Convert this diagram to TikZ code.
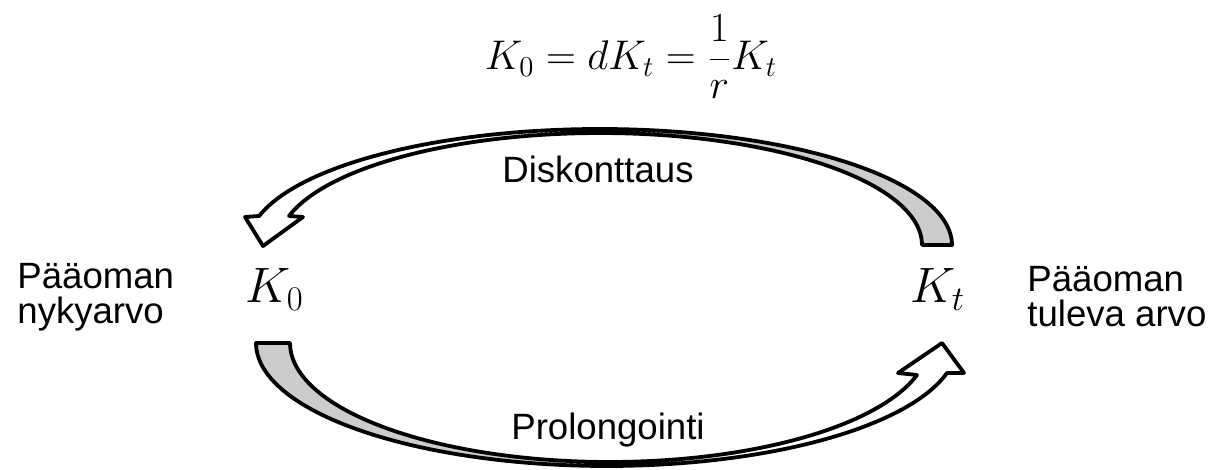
\documentclass[tikz,border=0pt]{standalone}
\usepackage{fontspec}
\setmainfont{Liberation Sans}
\begin{document}
\begin{tikzpicture}[x=0.5pt,y=-0.5pt,
  outline/.style={draw=black, line width=1.9pt, line join=round},
  backside/.style={fill=gray!40},
  frontside/.style={fill=white},
  lbl/.style={font=\fontsize{18.3pt}{16.5pt}\selectfont, inner sep=0pt, align=left},
  bigmath/.style={font=\fontsize{24.5pt}{28pt}\selectfont, inner sep=0pt},
  formula/.style={font=\fontsize{19.75pt}{24pt}\selectfont, inner sep=0pt}]
\useasboundingbox (0,0) rectangle (1211,470);

% ---- top curved arrow (Diskonttaus), right -> left
\fill[frontside] plot[domain=0:165.5,samples=90] ({600+352*cos(\x)},{245-116*sin(\x)})
  -- (245,217) -- (263,246) -- (303,217) -- (289,216)
  -- plot[domain=165:0,samples=90] ({600+322*cos(\x)},{245-112*sin(\x)}) -- cycle;
\fill[backside] plot[domain=0:88,samples=60] ({600+352*cos(\x)},{245-116*sin(\x)})
  -- plot[domain=88:0,samples=60] ({600+322*cos(\x)},{245-112*sin(\x)}) -- cycle;
\draw[outline] plot[domain=0:165.5,samples=90] ({600+352*cos(\x)},{245-116*sin(\x)})
  -- (245,217) -- (263,246) -- (303,217) -- (289,216)
  -- plot[domain=165:0,samples=90] ({600+322*cos(\x)},{245-112*sin(\x)}) -- cycle;

% ---- bottom curved arrow (Prolongointi), left -> right
\fill[frontside] plot[domain=180:14.1,samples=90] ({606.8+350.8*cos(\x)},{343+123*sin(\x)})
  -- (964,373) -- (942,343) -- (898,373) -- (917,375)
  -- plot[domain=15.6:180,samples=90] ({609.4+319.4*cos(\x)},{343+119*sin(\x)}) -- cycle;
\fill[backside] plot[domain=180:93,samples=60] ({606.8+350.8*cos(\x)},{343+123*sin(\x)})
  -- plot[domain=93:180,samples=60] ({609.4+319.4*cos(\x)},{343+119*sin(\x)}) -- cycle;
\draw[outline] plot[domain=180:14.1,samples=90] ({606.8+350.8*cos(\x)},{343+123*sin(\x)})
  -- (964,373) -- (942,343) -- (898,373) -- (917,375)
  -- plot[domain=15.6:180,samples=90] ({609.4+319.4*cos(\x)},{343+119*sin(\x)}) -- cycle;

% ---- texts
\node[formula, anchor=base] (eq) at (631,70) {$\displaystyle K_0 = dK_t = \frac{1}{r}K_t$};
\node[lbl, anchor=base] (disk) at (598,183) {Diskonttaus};
\node[lbl, anchor=base] (prol) at (608,439) {Prolongointi};
\node[bigmath, anchor=base west] (k0) at (245,303) {$K_0$};
\node[bigmath, anchor=base west] (kt) at (910,303) {$K_t$};
\node[lbl, anchor=base west] (nyk1) at (17,289) {Pääoman};
\node[lbl, anchor=base west] (nyk2) at (17,324) {nykyarvo};
\node[lbl, anchor=base west] (tul1) at (1027,292) {Pääoman};
\node[lbl, anchor=base west] (tul2) at (1027,327) {tuleva arvo};
\end{tikzpicture}
\end{document}
